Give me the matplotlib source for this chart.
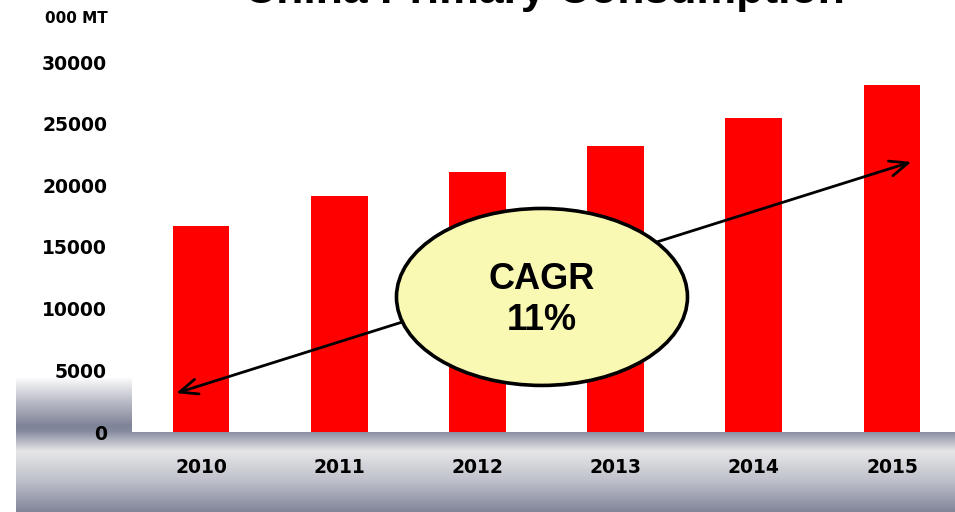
import numpy as np
import matplotlib
matplotlib.use("Agg")
import matplotlib.pyplot as plt
from matplotlib.colors import LinearSegmentedColormap
from matplotlib.patches import Ellipse

# ── Data ──────────────────────────────────────────────────────────────────────
years = ["2010", "2011", "2012", "2013", "2014", "2015"]
consumption = [16700, 19100, 21050, 23150, 25500, 28100]   # 000 MT
y_ticks = [0, 5000, 10000, 15000, 20000, 25000, 30000]

title = "China Primary Consumption"
unit_label = "000 MT"
cagr_label = "CAGR\n11%"

# arrow roughly follows the trend, from first year to last
arrow_start = (-0.18, 3150)
arrow_end = (5.14, 21900)

# ── Figure ────────────────────────────────────────────────────────────────────
W, H = 955, 512
fig = plt.figure(figsize=(W / 100, H / 100), dpi=100)
fig.patch.set_facecolor("white")

# grey "3D" floor + wall behind the axes (pixel coords)
bg = fig.add_axes([0, 0, 1, 1], zorder=0)
bg.set_xlim(0, W)
bg.set_ylim(H, 0)
bg.axis("off")

wall_cmap = LinearSegmentedColormap.from_list(
    "wall", [(0.0, "#fbfbfc"), (0.45, "#b9bbc6"), (0.9, "#7f8398"), (1.0, "#868a9e")])
floor_cmap = LinearSegmentedColormap.from_list(
    "floor", [(0.0, "#868a9e"), (0.25, "#e6e6e9"), (0.6, "#c0c2cb"), (1.0, "#81859a")])
grad = np.linspace(0, 1, 256).reshape(-1, 1)
bg.imshow(grad, cmap=wall_cmap, aspect="auto", extent=(16, 132, 431, 378))
bg.imshow(grad, cmap=floor_cmap, aspect="auto", extent=(16, W, H, 431))

# ── Main axes ─────────────────────────────────────────────────────────────────
ax = fig.add_axes([132 / W, 1 - 432 / H, (W - 132) / W, (432 - 62) / H], zorder=1)
ax.set_facecolor("white")
x = np.arange(len(years))
ax.bar(x, consumption, width=0.41, color="#ff0000", zorder=2)

ax.set_xlim(-0.5, 5.456)
ax.set_ylim(0, 30000)
ax.set_xticks(x)
ax.set_xticklabels(years)
ax.set_yticks(y_ticks)
ax.set_yticklabels([str(v) for v in y_ticks])
ax.tick_params(axis="y", length=0, pad=18, labelsize=13.5)
ax.tick_params(axis="x", length=0, pad=18.5, labelsize=13.5)
for lbl in ax.get_xticklabels() + ax.get_yticklabels():
    lbl.set_fontweight("bold")
    lbl.set_family("DejaVu Sans")
for s in ax.spines.values():
    s.set_visible(False)

# trend arrow
ax.annotate("", xy=arrow_end, xytext=arrow_start,
            arrowprops=dict(arrowstyle="<->,head_length=1.3,head_width=0.55",
                            color="black", lw=2.0, shrinkA=0, shrinkB=0),
            zorder=3, annotation_clip=False)

# CAGR bubble
ax.add_patch(Ellipse((2.467, 10950), width=2.106, height=14350,
                     facecolor="#f9f9b3", edgecolor="black", lw=2.6, zorder=4))
ax.text(2.467, 10700, cagr_label, ha="center", va="center", fontsize=26,
        fontweight="bold", family="Liberation Sans", linespacing=1.2, zorder=5)

# ── Header texts (title is cut by the top edge, as in the source slide) ──────
fig.text(544 / W, 1 - 3 / H, title, ha="center", va="baseline", fontsize=32,
         fontweight="bold", family="Liberation Sans")
fig.text(45 / W, 1 - 23 / H, unit_label, ha="left", va="baseline", fontsize=11,
         fontweight="bold", family="DejaVu Sans")

fig.savefig("out.png", dpi=100)
